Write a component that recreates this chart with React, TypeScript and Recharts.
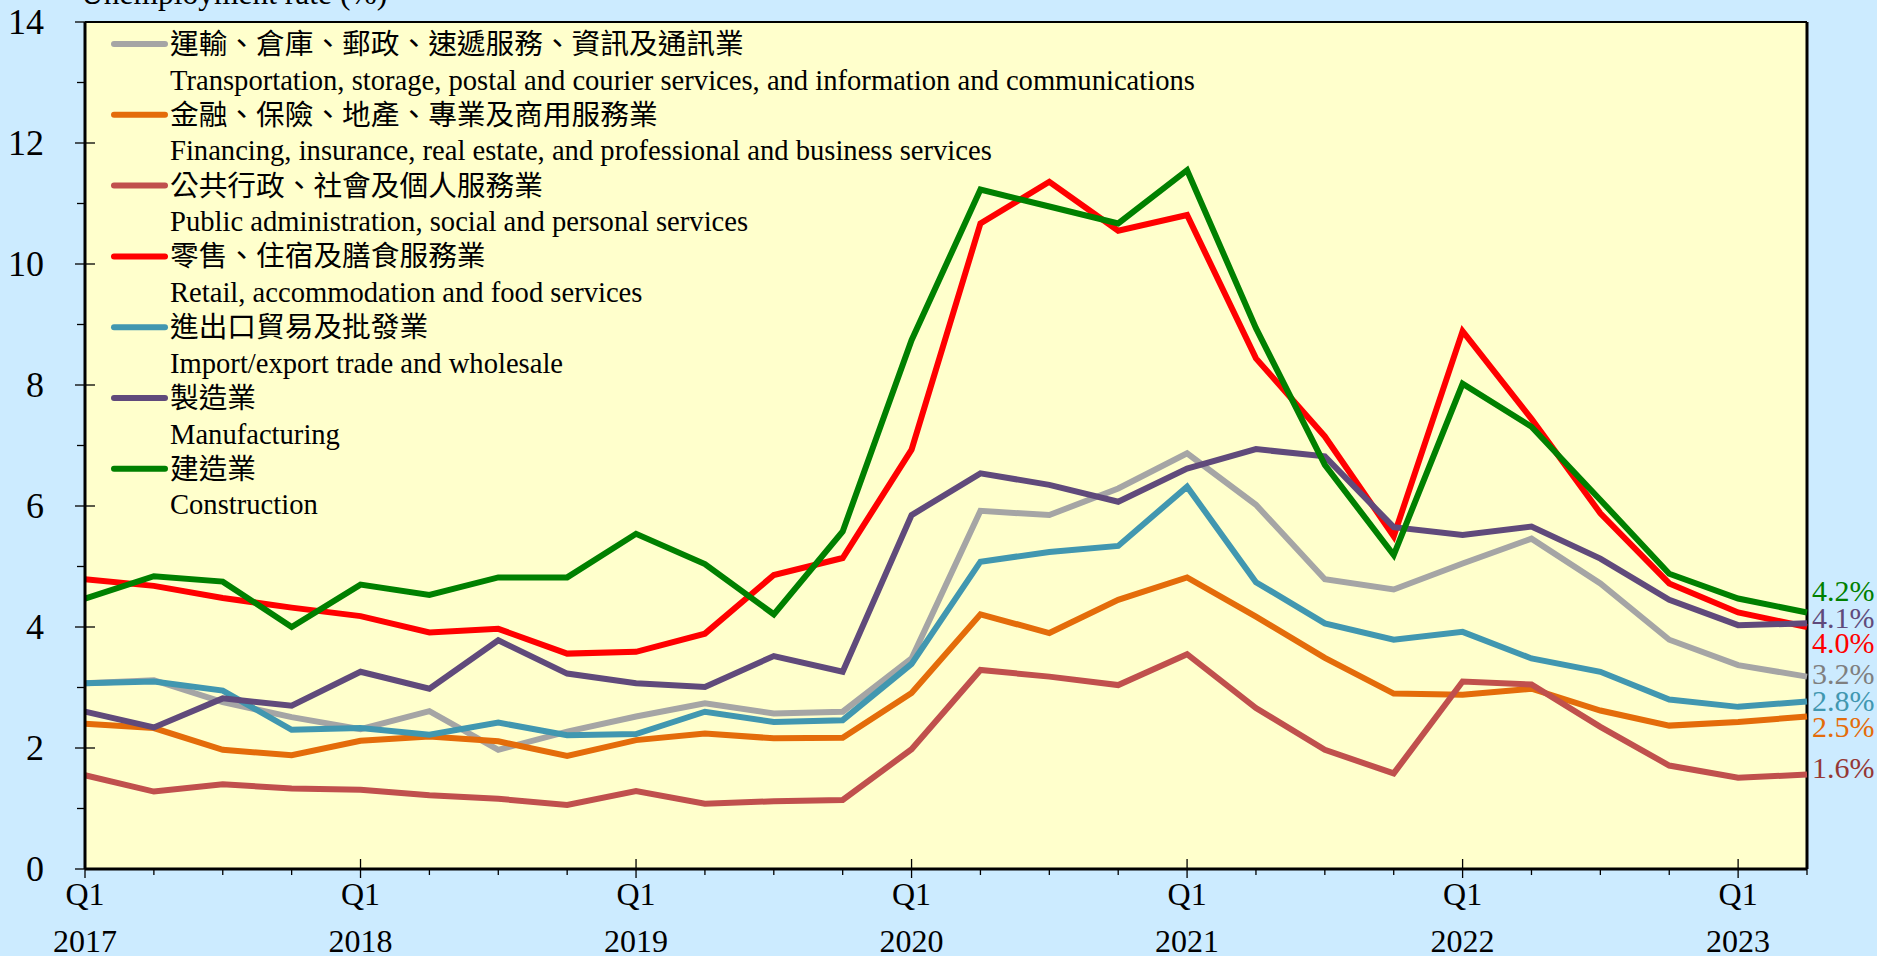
import React from 'react';
import { LineChart, Line, XAxis, YAxis, CartesianGrid, ReferenceLine } from 'recharts';

// ---- data ----
const years = ['2017', '2018', '2019', '2020', '2021', '2022', '2023'];
const quarters = ['Q1', 'Q2', 'Q3', 'Q4'];
const periodCount = 26; // Q1 2017 .. Q2 2023
const yTicks = [0, 1, 2, 3, 4, 5, 6, 7, 8, 9, 10, 11, 12, 13, 14];

const transport = [3.07, 3.12, 2.76, 2.51, 2.31, 2.61, 1.97, 2.27, 2.52, 2.74, 2.57, 2.60, 3.48, 5.92, 5.85, 6.29, 6.87, 6.02, 4.79, 4.62, 5.05, 5.46, 4.72, 3.79, 3.37, 3.18];
const finance = [2.40, 2.33, 1.97, 1.88, 2.12, 2.19, 2.11, 1.87, 2.13, 2.24, 2.16, 2.17, 2.91, 4.21, 3.90, 4.45, 4.82, 4.17, 3.49, 2.90, 2.88, 2.98, 2.62, 2.37, 2.43, 2.52];
const publicAdmin = [1.55, 1.28, 1.40, 1.33, 1.31, 1.22, 1.16, 1.06, 1.29, 1.08, 1.12, 1.14, 1.98, 3.29, 3.18, 3.04, 3.55, 2.66, 1.97, 1.58, 3.10, 3.05, 2.35, 1.71, 1.51, 1.56];
const retail = [4.79, 4.68, 4.48, 4.32, 4.18, 3.91, 3.97, 3.56, 3.59, 3.89, 4.86, 5.14, 6.93, 10.67, 11.36, 10.55, 10.81, 8.44, 7.15, 5.50, 8.89, 7.44, 5.88, 4.72, 4.24, 4.00];
const importExport = [3.07, 3.10, 2.95, 2.30, 2.33, 2.22, 2.42, 2.21, 2.23, 2.60, 2.43, 2.46, 3.39, 5.08, 5.24, 5.34, 6.32, 4.74, 4.06, 3.79, 3.92, 3.48, 3.26, 2.80, 2.68, 2.77];
const manufacturing = [2.60, 2.34, 2.82, 2.70, 3.26, 2.98, 3.78, 3.23, 3.07, 3.01, 3.52, 3.26, 5.85, 6.54, 6.35, 6.07, 6.62, 6.94, 6.82, 5.65, 5.52, 5.66, 5.13, 4.45, 4.03, 4.06];
const construction = [4.47, 4.84, 4.75, 4.00, 4.70, 4.53, 4.82, 4.82, 5.54, 5.04, 4.21, 5.58, 8.74, 11.23, 10.95, 10.67, 11.55, 8.94, 6.68, 5.19, 8.02, 7.31, 6.10, 4.88, 4.47, 4.24];

const seriesKeys = ['transport', 'finance', 'publicAdmin', 'retail', 'importExport', 'manufacturing', 'construction'];
const seriesValues = [transport, finance, publicAdmin, retail, importExport, manufacturing, construction];
const zhNames = [
  '運輸、倉庫、郵政、速遞服務、資訊及通訊業',
  '金融、保險、地產、專業及商用服務業',
  '公共行政、社會及個人服務業',
  '零售、住宿及膳食服務業',
  '進出口貿易及批發業',
  '製造業',
  '建造業',
];
const enNames = [
  'Transportation, storage, postal and courier services, and information and communications',
  'Financing, insurance, real estate, and professional and business services',
  'Public administration, social and personal services',
  'Retail, accommodation and food services',
  'Import/export trade and wholesale',
  'Manufacturing',
  'Construction',
];
const titleText = 'Unemployment rate (%)';

// ---- styles ----
const lineColors = ['#A5A5A5', '#E46C0A', '#C0504D', '#FF0000', '#4197B0', '#604A7B', '#008000'];
const labelColors = ['#7F7F7F', '#E46C0A', '#953735', '#FF0000', '#4197B0', '#604A7B', '#008000'];
const labelDy = [-3, 10, -7, 15, -1, -6, -22];

const FONT = "'Liberation Serif', 'Times New Roman', 'Noto Sans CJK TC', serif";
const W = 1877;
const H = 956;
const M = { top: 22, right: 70, bottom: 86, left: 84 };

const rows = Array.from({ length: periodCount }, (_, i) => {
  const row: Record<string, number | string> = {
    idx: i,
    period: `${quarters[i % 4]} ${years[Math.floor(i / 4)]}`,
  };
  seriesKeys.forEach((k, s) => {
    row[k] = seriesValues[s][i];
  });
  return row;
});
const xTicks = rows.map((r) => r.idx as number);

const XTick = (props: any) => {
  const { x, y, payload } = props;
  const i = payload.value as number;
  const isQ1 = i % 4 === 0;
  return (
    <g>
      {isQ1 ? (
        <line x1={x} x2={x} y1={y - 10} y2={y + 9} stroke="#000" strokeWidth={1.3} />
      ) : (
        <line x1={x} x2={x} y1={y} y2={y + 6} stroke="#000" strokeWidth={1.3} />
      )}
      {isQ1 && (
        <text x={x} y={y + 25} textAnchor="middle" dominantBaseline="central" fontFamily={FONT} fontSize={32} fill="#000">
          {quarters[i % 4]}
        </text>
      )}
      {isQ1 && (
        <text x={x} y={y + 72} textAnchor="middle" dominantBaseline="central" fontFamily={FONT} fontSize={32} fill="#000">
          {years[Math.floor(i / 4)]}
        </text>
      )}
    </g>
  );
};

const YTick = (props: any) => {
  const { x, y, payload } = props;
  const v = payload.value as number;
  const major = v % 2 === 0;
  return (
    <g>
      {major ? (
        <line x1={x - 10} x2={x + 10} y1={y} y2={y} stroke="#000" strokeWidth={1.3} />
      ) : (
        <line x1={x - 8} x2={x} y1={y} y2={y} stroke="#000" strokeWidth={1.3} />
      )}
      {major && (
        <text x={x - 41} y={y} textAnchor="end" dominantBaseline="central" fontFamily={FONT} fontSize={36} fill="#000">
          {v}
        </text>
      )}
    </g>
  );
};

const makeEndLabel = (s: number) => (props: any) => {
  const { x, y, index, value } = props;
  if (index !== periodCount - 1) return null;
  return (
    <text
      x={x + 5}
      y={y + labelDy[s]}
      textAnchor="start"
      dominantBaseline="central"
      fontFamily={FONT}
      fontSize={30}
      fill={labelColors[s]}
    >
      {`${Number(value).toFixed(1)}%`}
    </text>
  );
};

export default function App() {
  return (
    <div style={{ position: 'fixed', left: 0, top: 0, width: W, height: H, background: '#CCEBFF', overflow: 'hidden' }}>
      <LineChart width={W} height={H} data={rows} margin={M}>
        <CartesianGrid horizontal={false} vertical={false} fill="#FFFFCC" />
        <XAxis
          dataKey="idx"
          type="number"
          domain={[0, periodCount - 1]}
          ticks={xTicks}
          interval={0}
          height={1}
          tickSize={0}
          tickMargin={0}
          tickLine={false}
          axisLine={{ stroke: '#000', strokeWidth: 3 }}
          tick={<XTick />}
        />
        <YAxis
          type="number"
          domain={[0, 14]}
          ticks={yTicks}
          interval={0}
          width={1}
          tickSize={0}
          tickMargin={0}
          tickLine={false}
          axisLine={{ stroke: '#000', strokeWidth: 3 }}
          tick={<YTick />}
        />
        <ReferenceLine y={14} stroke="#000" strokeWidth={2} />
        <ReferenceLine x={periodCount - 1} stroke="#000" strokeWidth={3} />
        {seriesKeys.map((k, s) => (
          <Line
            key={k}
            dataKey={k}
            type="linear"
            stroke={lineColors[s]}
            strokeWidth={6}
            dot={false}
            activeDot={false}
            isAnimationActive={false}
            label={makeEndLabel(s)}
          />
        ))}
      </LineChart>
      <svg width={W} height={H} style={{ position: 'absolute', left: 0, top: 0, pointerEvents: 'none' }}>
        <text x={81} y={4} fontFamily={FONT} fontSize={31.5} fill="#000">
          {titleText}
        </text>
        {seriesKeys.map((k, s) => {
          const cy = 44 + 70.8 * s;
          return (
            <g key={k}>
              <line x1={114} x2={165} y1={cy} y2={cy} stroke={lineColors[s]} strokeWidth={6} strokeLinecap="round" />
              <text x={170} y={cy} dominantBaseline="central" fontFamily={FONT} fontSize={28.7} fill="#000">
                {zhNames[s]}
              </text>
              <text x={170} y={cy + 36} dominantBaseline="central" fontFamily={FONT} fontSize={28.6} fill="#000">
                {enNames[s]}
              </text>
            </g>
          );
        })}
      </svg>
    </div>
  );
}
